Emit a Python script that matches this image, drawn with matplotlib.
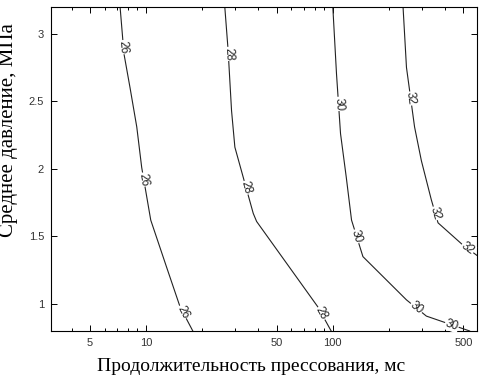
import numpy as np
import matplotlib
matplotlib.use('Agg')
import matplotlib.pyplot as plt
from matplotlib.ticker import FixedLocator, LogLocator, NullFormatter

# iso-lines: pressure (MPa) vs pressing time (ms)
p26_y = [3.20, 2.85, 2.60, 2.31, 2.01, 1.72, 1.62, 1.27, 0.98, 0.80]
p26_x = [7.26, 7.62, 8.21, 8.92, 9.48, 10.3, 10.6, 12.9, 15.2, 17.8]

p28_y = [3.20, 2.88, 2.43, 2.16, 1.94, 1.67, 1.61, 0.98, 0.80]
p28_x = [26.4, 27.5, 28.7, 29.9, 33.1, 37.5, 39.1, 83.0, 98.0]

p30_y = [3.20, 2.70, 2.26, 1.94, 1.62, 1.35, 1.03, 0.91, 0.80]
p30_x = [100, 104.7, 110, 118, 126, 145, 248, 317, 540]

p32_y = [3.20, 2.75, 2.31, 2.06, 1.77, 1.60, 1.435, 1.36]
p32_x = [237.7, 248, 274, 298, 337, 366, 498, 590]

levels = ['26', '28', '30', '32']
lines_x = [p26_x, p28_x, p30_x, p32_x]
lines_y = [p26_y, p28_y, p30_y, p32_y]
# pressure values where the inline labels sit
label_y = [[2.90, 1.92, 0.94],
           [2.85, 1.86, 0.93],
           [2.48, 1.50, 0.97, 0.845],
           [2.52, 1.67, 1.41]]

xticks = [5, 10, 50, 100, 500]
yticks = [1, 1.5, 2, 2.5, 3]

fig = plt.figure(figsize=(4.86, 3.88), dpi=100)
ax = fig.add_axes([0.105, 0.147, 0.876, 0.836])
ax.set_xscale('log')
ax.set_xlim(3.1, 590)
ax.set_ylim(0.8, 3.2)

for xs, ys in zip(lines_x, lines_y):
    ax.plot(xs, ys, color='#222222', lw=0.8)

def label_on_line(xs, ys, yv, txt):
    lx = np.log10(xs)[::-1]
    yr = np.array(ys)[::-1]
    xv = 10 ** np.interp(yv, yr, lx)
    # local direction in display space
    d = 0.03
    x1 = 10 ** np.interp(yv + d, yr, lx)
    x2 = 10 ** np.interp(yv - d, yr, lx)
    p1 = ax.transData.transform((x1, yv + d))
    p2 = ax.transData.transform((x2, yv - d))
    ang = np.degrees(np.arctan2(p2[1] - p1[1], p2[0] - p1[0]))
    if ang > 90:
        ang -= 180
    if ang < -90:
        ang += 180
    ax.text(xv, yv, txt, rotation=ang, rotation_mode='anchor',
            ha='center', va='center', fontsize=8.5, color='#222222',
            family='Liberation Sans',
            bbox=dict(boxstyle='square,pad=0.05', fc='white', ec='none'))

for xs, ys, lys, lev in zip(lines_x, lines_y, label_y, levels):
    for yv in lys:
        label_on_line(xs, ys, yv, lev)

ax.xaxis.set_major_locator(FixedLocator(xticks))
ax.set_xticklabels([str(t) for t in xticks])
ax.xaxis.set_minor_locator(LogLocator(base=10, subs=range(2, 10)))
ax.xaxis.set_minor_formatter(NullFormatter())
ax.set_yticks(yticks)
ax.set_yticklabels(['1', '1.5', '2', '2.5', '3'])

ax.tick_params(which='both', direction='in', top=True, right=True,
               labelsize=8, labelcolor='#333333', width=0.7)
ax.tick_params(which='major', length=4, pad=5)
ax.tick_params(which='minor', length=2.5)
for lab in ax.get_xticklabels() + ax.get_yticklabels():
    lab.set_family('Liberation Sans')
for s in ax.spines.values():
    s.set_linewidth(0.8)

ax.set_xlabel('Продолжительность прессования, мс', family='Liberation Serif',
              fontsize=14)
ax.set_ylabel('Среднее давление, МПа', family='Liberation Serif', fontsize=15)
ax.xaxis.set_label_coords(0.47, -0.082)
ax.yaxis.set_label_coords(-0.078, 0.62)

fig.savefig('out.png', dpi=100)
